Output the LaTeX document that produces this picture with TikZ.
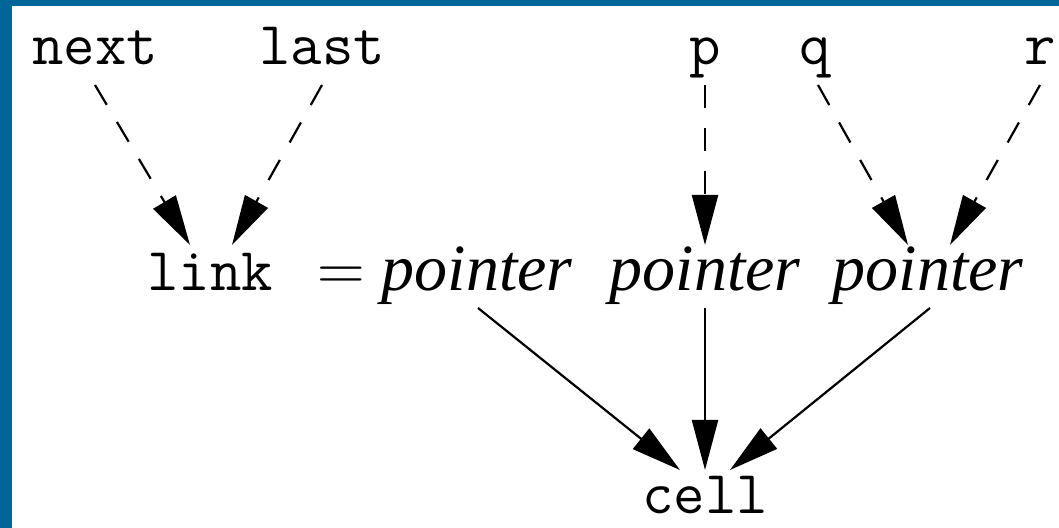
\documentclass[tikz,border=0pt]{standalone}
\usepackage{fontspec}
\setmainfont{Liberation Serif}
\newfontfamily\lmfont{Latin Modern Roman}
\usetikzlibrary{arrows.meta,calc}
\definecolor{frameblue}{RGB}{0,102,153}

\begin{document}
\begin{tikzpicture}[
  x=0.5pt, y=-0.5pt,
  >={Triangle[length=25pt,width=13pt]},
  ident/.style={font=\fontsize{30.5}{33}\selectfont\ttfamily, inner sep=0pt, anchor=base},
  kind/.style={font=\fontsize{33}{36}\selectfont\itshape, inner sep=0pt, anchor=base},
  ref/.style={->, line width=1.1pt, dash pattern=on 11.5pt off 10pt},
  val/.style={->, line width=1.1pt}
]
  % frame
  \fill[frameblue] (0,0) rectangle (1059,528);
  \fill[white] (12,6) rectangle (1059,528);
  \useasboundingbox (0,0) rectangle (1059,528);

  % variables
  \node[ident] (next) at (95,65) {next};
  \node[ident] (last) at (322,65) {last};
  \node[ident] (p) at (705,65) {p};
  \node[ident] (q) at (815,65) {q};
  \node[ident] (r) at (1040,65) {r};

  % types
  \node[ident] (link) at (210,291) {link};
  \node[kind, font=\fontsize{33}{36}\selectfont\lmfont] (eq) at (341,291) {=};
  \node[kind] (ptrA) at (477,291) {pointer};
  \node[kind] (ptrB) at (705,291) {pointer};
  \node[kind] (ptrC) at (928,291) {pointer};
  \node[ident] (cell) at (705,513) {cell};

  % dashed references
  \draw[ref] ($(next.base)+(0,20)$) -- ($(link.base)+(-20,-46)$);
  \draw[ref] ($(last.base)+(0,20)$) -- ($(link.base)+(22,-46)$);
  \draw[ref] ($(p.base)+(0,20)$) -- ($(ptrB.base)+(0,-46)$);
  \draw[ref] ($(q.base)+(3,20)$) -- ($(ptrC.base)+(-20,-46)$);
  \draw[ref] ($(r.base)+(0,20)$) -- ($(ptrC.base)+(22,-46)$);

  % pointers to cell
  \draw[val] ($(ptrA.base)+(1,17)$) -- ($(cell.base)+(-25,-43)$);
  \draw[val] ($(ptrB.base)+(0,17)$) -- ($(cell.base)+(0,-43)$);
  \draw[val] ($(ptrC.base)+(2,17)$) -- ($(cell.base)+(25,-43)$);
\end{tikzpicture}
\end{document}
